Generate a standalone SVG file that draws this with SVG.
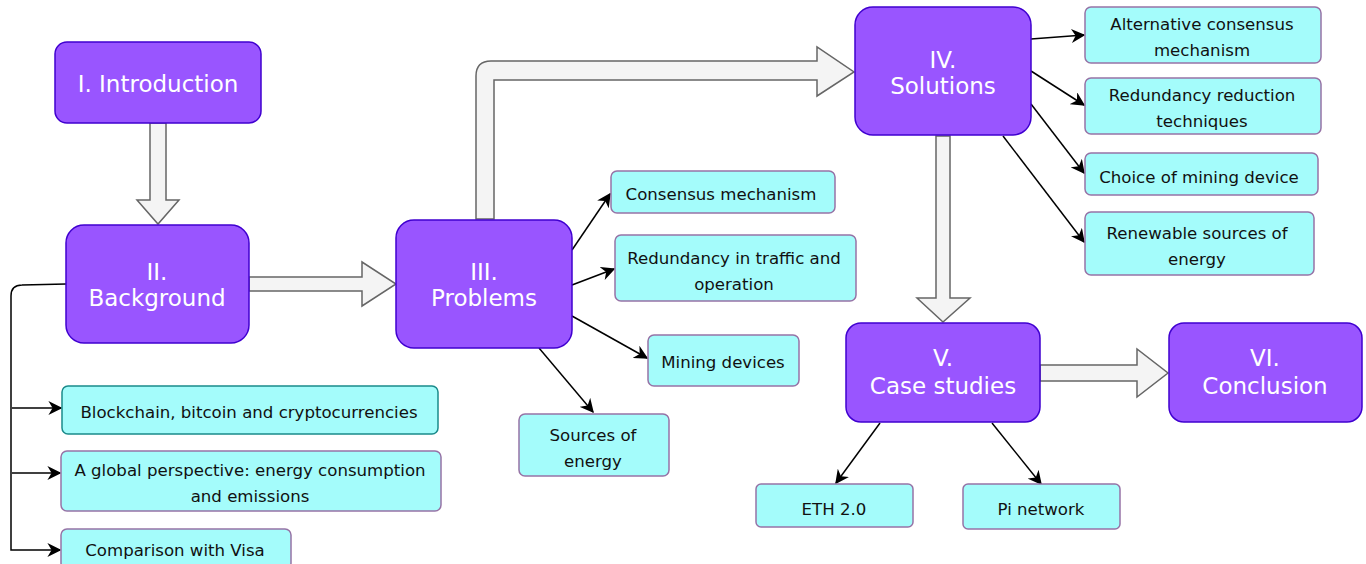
<svg xmlns="http://www.w3.org/2000/svg" width="1366" height="564" viewBox="0 0 1366 564">
<defs>
<marker id="ah" viewBox="0 0 10 10" refX="9" refY="5" markerWidth="14" markerHeight="14" markerUnits="userSpaceOnUse" orient="auto">
<path d="M0,0 L10,5 L0,10 L3,5 z" fill="#000"/>
</marker>
<style>
.main rect{fill:#9955ff;stroke:#4000d0;stroke-width:1.5}
.main text{fill:#fff;font-family:"DejaVu Sans",Verdana,sans-serif;font-size:23px;text-anchor:middle}
.sub rect{fill:#a4fcfb;stroke:#9673a6;stroke-width:1.5}
.sub text{fill:#111;font-family:"DejaVu Sans",Verdana,sans-serif;font-size:16.6px;text-anchor:middle}
.blk{fill:#f4f4f4;stroke:#666;stroke-width:1.5;stroke-linejoin:miter}
.ln{fill:none;stroke:#000;stroke-width:1.5}
</style>
</defs>
<rect width="1366" height="564" fill="#fff"/>

<g id="connectors">
<path class="blk" d="M150,123 L166,123 L166,200 L179,200 L158,224 L137,200 L150,200 Z"/>
<path class="blk" d="M249,277 L362,277 L362,262 L396,284 L362,306 L362,291 L249,291 Z"/>
<path class="blk" d="M476,219 L476,76 Q476,61 491,61 L817,61 L817,47 L854,72 L817,96 L817,80 L494,80 L494,219 Z"/>
<path class="blk" d="M936,136 L950,136 L950,298 L970,298 L943,322 L917,298 L936,298 Z"/>
<path class="blk" d="M1040,365 L1137,365 L1137,349 L1168,373 L1137,397 L1137,381 L1040,381 Z"/>

<path class="ln" d="M66,284 L22,285 Q11,285 11,296 L11,550 L60,550" marker-end="url(#ah)"/>
<path class="ln" d="M12,408 L61,408" marker-end="url(#ah)"/>
<path class="ln" d="M12,473 L60,473" marker-end="url(#ah)"/>

<path class="ln" d="M572,250 L610,194" marker-end="url(#ah)"/>
<path class="ln" d="M572,285 L614,269" marker-end="url(#ah)"/>
<path class="ln" d="M572,316 L647,358" marker-end="url(#ah)"/>
<path class="ln" d="M539,348 L593,412" marker-end="url(#ah)"/>

<path class="ln" d="M1031,39 L1084,35" marker-end="url(#ah)"/>
<path class="ln" d="M1031,71 L1084,105" marker-end="url(#ah)"/>
<path class="ln" d="M1031,104 L1084,173" marker-end="url(#ah)"/>
<path class="ln" d="M1003,136 L1084,242" marker-end="url(#ah)"/>

<path class="ln" d="M880,423 L836,483" marker-end="url(#ah)"/>
<path class="ln" d="M992,423 L1041,484" marker-end="url(#ah)"/>
</g>

<g id="intro" class="main"><rect x="55" y="42" width="206" height="81" rx="12"/><text x="158" y="92">I. Introduction</text></g>
<g id="background" class="main"><rect x="66" y="225" width="183" height="118" rx="18"/><text x="157" y="280">II.</text><text x="157" y="306">Background</text></g>
<g id="problems" class="main"><rect x="396" y="220" width="176" height="128" rx="18"/><text x="484" y="280">III.</text><text x="484" y="306">Problems</text></g>
<g id="solutions" class="main"><rect x="855" y="7" width="176" height="128" rx="18"/><text x="943" y="68">IV.</text><text x="943" y="94">Solutions</text></g>
<g id="case" class="main"><rect x="846" y="323" width="194" height="99" rx="15"/><text x="943" y="366">V.</text><text x="943" y="394">Case studies</text></g>
<g id="conclusion" class="main"><rect x="1169" y="323" width="193" height="99" rx="15"/><text x="1265" y="366">VI.</text><text x="1265" y="394">Conclusion</text></g>

<g id="s-consensus" class="sub"><rect x="611" y="171" width="224" height="42" rx="6"/><text x="721" y="200">Consensus mechanism</text></g>
<g id="s-redtraffic" class="sub"><rect x="615" y="235" width="241" height="66" rx="6"/><text x="734" y="264">Redundancy in traffic and</text><text x="734" y="290">operation</text></g>
<g id="s-mining" class="sub"><rect x="648" y="335" width="151" height="51" rx="6"/><text x="723" y="368">Mining devices</text></g>
<g id="s-sources" class="sub"><rect x="519" y="414" width="150" height="62" rx="6"/><text x="593" y="441">Sources of</text><text x="593" y="467">energy</text></g>

<g id="s-blockchain" class="sub"><rect x="62" y="386" width="376" height="48" rx="6" style="stroke:#1a8a8a"/><text x="249" y="418">Blockchain, bitcoin and cryptocurrencies</text></g>
<g id="s-global" class="sub"><rect x="61" y="451" width="380" height="60" rx="6"/><text x="250" y="476">A global perspective: energy consumption</text><text x="250" y="502">and emissions</text></g>
<g id="s-visa" class="sub"><rect x="61" y="529" width="230" height="40" rx="6"/><text x="175" y="556">Comparison with Visa</text></g>

<g id="s-alt" class="sub"><rect x="1085" y="7" width="236" height="56" rx="6"/><text x="1202" y="30">Alternative consensus</text><text x="1202" y="56">mechanism</text></g>
<g id="s-redred" class="sub"><rect x="1085" y="78" width="236" height="56" rx="6"/><text x="1202" y="101">Redundancy reduction</text><text x="1202" y="127">techniques</text></g>
<g id="s-choice" class="sub"><rect x="1085" y="153" width="233" height="42" rx="6"/><text x="1199" y="183">Choice of mining device</text></g>
<g id="s-renew" class="sub"><rect x="1085" y="212" width="229" height="63" rx="6"/><text x="1197" y="239">Renewable sources of</text><text x="1197" y="265">energy</text></g>

<g id="s-eth" class="sub"><rect x="756" y="484" width="157" height="43" rx="5"/><text x="834" y="515">ETH 2.0</text></g>
<g id="s-pi" class="sub"><rect x="963" y="484" width="157" height="45" rx="5"/><text x="1041" y="515">Pi network</text></g>
</svg>
